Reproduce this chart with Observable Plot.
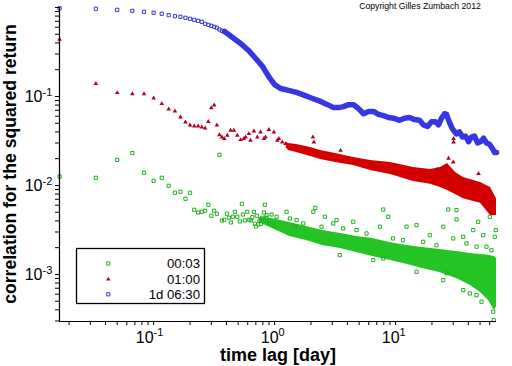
<!DOCTYPE html>
<html><head><meta charset="utf-8">
<script src="https://cdn.jsdelivr.net/npm/d3@7"></script>
<script src="https://cdn.jsdelivr.net/npm/@observablehq/plot@0.6"></script>
<style>html,body{margin:0;padding:0;background:#fff;} #chart{width:512px;height:366px;}</style>
</head><body><div id="chart"></div>
<script>
// ---- data (lag in days, correlation values) ----
const seriesNames = ["00:03", "01:00", "1d 06:30"];

// 1d 06:30 (blue): first lags as separate squares
const blueLag = [0.0167,0.0333,0.05,0.0667,0.0833,0.1,0.1167,0.1333,0.15,0.1667,0.1833,0.2,0.2167,0.2333,0.25,0.2667,0.2833,0.3,0.3167,0.3333,0.35,0.3667,0.3833];
const blueVal = [0.98,0.967,0.942,0.918,0.895,0.872,0.850,0.820,0.798,0.786,0.766,0.746,0.727,0.709,0.691,0.656,0.639,0.623,0.607,0.592,0.566,0.547,0.533];
// 1d 06:30 (blue): dense part (points merge into a thick curve)
const blueCurveLag = [0.386,0.450,0.524,0.610,0.710,0.796,0.892,1.0,1.121,1.305,1.520,1.770,2.061,2.400,2.742,3.073,3.381,3.718,4.089,4.497,4.946,5.439,5.983,6.580,7.236,7.958,8.752,9.627,10.79,11.87,13.05,14.36,15.79,17.03,18.39,19.84,21.41,22.67,24.00,25.41,26.40,27.95,29.59,31.92,33.80,35.78,37.89,40.12,42.47,44.98,47.62,50.42,53.39,56.53,59.85,63.37,65.80,68.35];
const blueCurveVal = [0.537,0.460,0.394,0.329,0.260,0.217,0.168,0.136,0.123,0.117,0.111,0.103,0.095,0.088,0.081,0.075,0.075,0.077,0.081,0.081,0.073,0.064,0.068,0.068,0.063,0.061,0.058,0.057,0.054,0.057,0.058,0.055,0.054,0.048,0.046,0.052,0.052,0.048,0.057,0.064,0.063,0.051,0.043,0.038,0.040,0.035,0.036,0.031,0.035,0.036,0.030,0.031,0.034,0.030,0.029,0.026,0.0235,0.0235];

// 01:00 (red): isolated triangles
const redLag = [0.0167,0.0333,0.05,0.0667,0.0833,0.1,0.1167,0.1333,0.15,0.1667,0.1833,0.2,0.2167,0.2333,0.25,0.2667,0.2833,0.3,0.3167,0.3333,0.35,0.3667,0.3833,
  0.407,0.433,0.461,0.492,0.524,0.558,0.576,0.613,0.633,0.675,0.720,0.766,0.816,0.842,0.897,0.987,1.053,1.085,1.158,1.233,
  2.073,2.113,3.512,22.24,27.42,29.99,30.2,30.2,37.89,43.29,48.53,57.58];
const redVal = [0.437,0.139,0.110,0.107,0.107,0.0957,0.0828,0.0720,0.0684,0.0585,0.0514,0.0476,0.0464,0.0464,0.0452,0.0440,0.0520,0.0746,0.0798,0.0476,0.0371,0.0349,0.0335,
  0.0365,0.0415,0.0415,0.0365,0.0326,0.0335,0.0349,0.0381,0.0320,0.0408,0.0349,0.0397,0.0335,0.0349,0.0423,0.0397,0.0320,0.0335,0.0307,0.0294,
  0.0349,0.0307,0.0247,0.0151,0.0201,0.0183,0.0335,0.0307,0.0109,0.0108,0.0136,0.0073];
// 01:00 (red): dense cloud, lower / upper envelope
const redBandLag  = [1.25,1.305,1.520,1.984,2.400,3.192,4.497,6.215,9.093,14.09,19.47,23.55,26.90,31.33,36.48,50.42,60.98,68.35];
const redBandHigh = [0.0305,0.0296,0.0289,0.0267,0.0247,0.0229,0.0206,0.0191,0.0181,0.0159,0.0151,0.0159,0.0177,0.0140,0.0123,0.0108,0.0095,0.0071];
const redBandLow  = [0.0265,0.0247,0.0235,0.0212,0.0196,0.0181,0.0168,0.0147,0.0133,0.0111,0.0103,0.0095,0.0088,0.0079,0.0071,0.0063,0.0046,0.0046];

// 00:03 (green): isolated squares
const greenLag = [0.0167,0.0333,0.05,0.0667,0.0833,0.1,0.1167,0.1333,0.15,0.1667,0.1833,0.2,0.2167,0.2333,0.25,0.2667,0.2833,0.3,0.3167,0.3333,0.35,0.3667,0.3833,
  0.403,0.419,0.435,0.452,0.470,0.492,0.517,0.537,0.547,0.568,0.595,0.618,0.637,0.654,0.674,0.688,0.701,0.714,0.733,0.752,0.770,0.791,0.816,0.831,0.854,0.897,0.944,0.987,
  1.039,1.256,1.52,2.09,2.17,2.604,3.253,4.471,7.913,8.705,12.33,14.91,24.80,27.26,31.92,31.92,36.27,43.86,46.71,48.26,53.07,60.18,66.18,67.45,
  0.859,1.338,1.472,1.727,2.446,3.055,3.694,4.762,5.757,7.417,9.54,11.54,16.92,19.19,21.8,29.99,38.6,56.5,62.1,
  3.46,6.54,14.91,24.8,36.3,46.7,
  7.913,26.40,41.11,51.36,64.18,64.92];
const greenVal = [0.0126,0.0122,0.0194,0.0231,0.0139,0.0113,0.0122,0.00992,0.00828,0.00850,0.00709,0.00828,0.00533,0.00497,0.00506,0.00520,0.00607,0.00457,0.00520,0.00481,0.0221,0.00404,0.00412,
  0.00481,0.00434,0.00384,0.00445,0.00506,0.00445,0.00394,0.00623,0.00472,0.00404,0.00506,0.00412,0.00404,0.00440,0.00506,0.00371,0.00346,0.00457,0.00365,0.00404,0.00371,0.00434,0.00497,0.00607,0.00434,0.00377,0.00472,0.00355,
  0.00445,0.00506,0.00408,0.00506,0.0056,0.00445,0.00408,0.00391,0.00537,0.00445,0.00344,0.00358,0.00344,0.00537,0.00528,0.00415,0.00265,0.00315,0.00205,0.00391,0.00276,0.00445,0.00265,0.00315,
  0.00464,0.00426,0.00344,0.00374,0.00344,0.00374,0.00329,0.00315,0.00289,0.00344,0.00254,0.00243,0.00233,0.00276,0.00213,0.00254,0.00223,0.00205,0.00187,
  0.00165,0.00145,0.00107,0.000863,0.000666,0.000585,
  0.00151,0.00103,0.000612,0.000494,0.000381,0.000307];
// 00:03 (green): dense cloud, lower / upper envelope
const greenBandLag  = [0.75,0.95,1.330,1.839,2.493,3.512,4.762,6.455,8.920,12.33,16.72,23.10,31.92,41.68,50.42,58.71,65.80,68.35];
const greenBandHigh = [0.00440,0.00425,0.00384,0.00346,0.00312,0.00289,0.00267,0.00254,0.00229,0.00212,0.00201,0.00191,0.00181,0.00172,0.00168,0.00164,0.00159,0.00151];
const greenBandLow  = [0.00380,0.00330,0.00267,0.00241,0.00212,0.00196,0.00177,0.00159,0.00144,0.00130,0.00117,0.00105,0.000902,0.000752,0.000628,0.000510,0.000394,0.000437];

// axis ticks
const xMajor = [0.1, 1, 10];
const xExp = ["-1", "0", "1"];
const xTicks = [0.02,0.03,0.04,0.05,0.06,0.07,0.08,0.09,0.1,0.2,0.3,0.4,0.5,0.6,0.7,0.8,0.9,1,2,3,4,5,6,7,8,9,10,20,30,40,50,60];
const yMajor = [0.001, 0.01, 0.1];
const yExp = ["-3", "-2", "-1"];
const yTicks = [0.0003,0.0004,0.0005,0.0006,0.0007,0.0008,0.0009,0.001,0.002,0.003,0.004,0.005,0.006,0.007,0.008,0.009,0.01,0.02,0.03,0.04,0.05,0.06,0.07,0.08,0.09,0.1,0.2,0.3,0.4,0.5,0.6,0.7,0.8,0.9,1];
const xDomain = [1/60, 68.35];
const yDomain = [2.96e-4, 1];
const xTitle = "time lag [day]";
const yTitle = "correlation for the squared return";
const copyright = "Copyright Gilles Zumbach 2012";

// ---- build ----
const pts = (X, Y) => X.map((x, i) => ({x, y: Y[i]}));
const band = (X, L, H) => X.map((x, i) => ({x, lo: L[i], hi: H[i]}));
const GREEN = "#24c424", GREEN_D = "#22b022";
const RED = "#d40000", RED_D = "#b0001c";
const BLUE = "#3636e4", BLUE_D = "#3838c8";
const NARROW = "'Liberation Sans Narrow', 'Liberation Sans', sans-serif";
const SANS = "'Liberation Sans', Arial, sans-serif";

const labelMarks = [];
xMajor.forEach((v, i) => {
  const dx = xExp[i].startsWith("-") ? 0 : 4;
  labelMarks.push(Plot.text([v], {x: d => d, frameAnchor: "bottom", text: () => "10", textAnchor: "end", lineAnchor: "bottom", dx, dy: 21.5, fontSize: 16, fontFamily: NARROW, fill: "black"}));
  labelMarks.push(Plot.text([v], {x: d => d, frameAnchor: "bottom", text: () => xExp[i], textAnchor: "start", lineAnchor: "bottom", dx, dy: 14.5, fontSize: 11, fontFamily: NARROW, fill: "black"}));
});
yMajor.forEach((v, i) => {
  labelMarks.push(Plot.text([v], {y: d => d, frameAnchor: "left", text: () => "10", textAnchor: "end", lineAnchor: "bottom", dx: -17, dy: 6, fontSize: 16, fontFamily: NARROW, fill: "black"}));
  labelMarks.push(Plot.text([v], {y: d => d, frameAnchor: "left", text: () => yExp[i], textAnchor: "start", lineAnchor: "bottom", dx: -17, dy: 0, fontSize: 11, fontFamily: NARROW, fill: "black"}));
});

const plot = Plot.plot({
  width: 512, height: 366,
  marginLeft: 59, marginRight: 16, marginTop: 7, marginBottom: 45,
  style: {background: "white", overflow: "visible"},
  x: {type: "log", domain: xDomain},
  y: {type: "log", domain: yDomain},
  marks: [
    Plot.areaY(band(greenBandLag, greenBandLow, greenBandHigh), {x: "x", y1: "lo", y2: "hi", fill: GREEN}),
    Plot.dot(pts(greenLag, greenVal), {x: "x", y: "y", symbol: "square", r: 1.8, stroke: GREEN_D, strokeWidth: 1, fill: "none"}),
    Plot.areaY(band(redBandLag, redBandLow, redBandHigh), {x: "x", y1: "lo", y2: "hi", fill: RED}),
    Plot.dot(pts(redLag, redVal), {x: "x", y: "y", symbol: "triangle", r: 1.7, fill: RED_D, stroke: "none"}),
    Plot.line(pts(blueCurveLag, blueCurveVal), {x: "x", y: "y", stroke: BLUE, strokeWidth: 5.5, strokeLinejoin: "round"}),
    Plot.dot(pts(blueLag, blueVal), {x: "x", y: "y", symbol: "square", r: 1.8, stroke: BLUE_D, strokeWidth: 1, fill: "none"}),
    Plot.axisX({ticks: xTicks, tickSize: 4, tickFormat: () => "", label: null, stroke: "black"}),
    Plot.axisY({ticks: yTicks, tickSize: 4, tickFormat: () => "", label: null, stroke: "black"}),
    Plot.ruleX([xDomain[0]], {stroke: "black", strokeWidth: 1.2}),
    Plot.ruleY([yDomain[0]], {stroke: "black", strokeWidth: 1.2}),
    ...labelMarks,
    Plot.text([xTitle], {frameAnchor: "bottom", lineAnchor: "bottom", dy: 39, fontSize: 18, fontWeight: "bold", fontFamily: SANS, fill: "black"}),
    Plot.text([copyright], {frameAnchor: "top", lineAnchor: "bottom", dx: 142, dy: 1.5, fontSize: 8.7, fontFamily: SANS, fill: "black"})
  ]
});
document.getElementById("chart").appendChild(plot);

const svg = d3.select(plot);
// rotated y-axis title
svg.append("text").attr("transform", "translate(16.3,164) rotate(-90)")
  .attr("text-anchor", "middle").attr("font-family", SANS).attr("font-weight", "bold")
  .attr("font-size", 17.6).attr("fill", "black").text(yTitle);

// ---- legend box (inside plot area, lower left) ----
const lg = svg.append("g");
lg.append("rect").attr("x", 76.5).attr("y", 248.5).attr("width", 128).attr("height", 55)
  .attr("fill", "white").attr("stroke", "black").attr("stroke-width", 1.3);
const legendItems = [
  {name: seriesNames[0], sym: d3.symbolSquare, size: 10, fill: "none", stroke: GREEN_D},
  {name: seriesNames[1], sym: d3.symbolTriangle, size: 9, fill: RED_D, stroke: "none"},
  {name: seriesNames[2], sym: d3.symbolSquare, size: 10, fill: "none", stroke: BLUE_D}
];
const rowY = [263.5, 279.3, 294.3];
legendItems.forEach((it, i) => {
  lg.append("path").attr("d", d3.symbol(it.sym, it.size)())
    .attr("transform", `translate(108.3,${rowY[i]})`)
    .attr("fill", it.fill).attr("stroke", it.stroke).attr("stroke-width", 1);
  lg.append("text").attr("x", 200).attr("y", rowY[i] + 4.8).attr("text-anchor", "end")
    .attr("font-family", SANS).attr("font-size", 13.2).attr("fill", "black").text(it.name);
});
</script></body></html>
